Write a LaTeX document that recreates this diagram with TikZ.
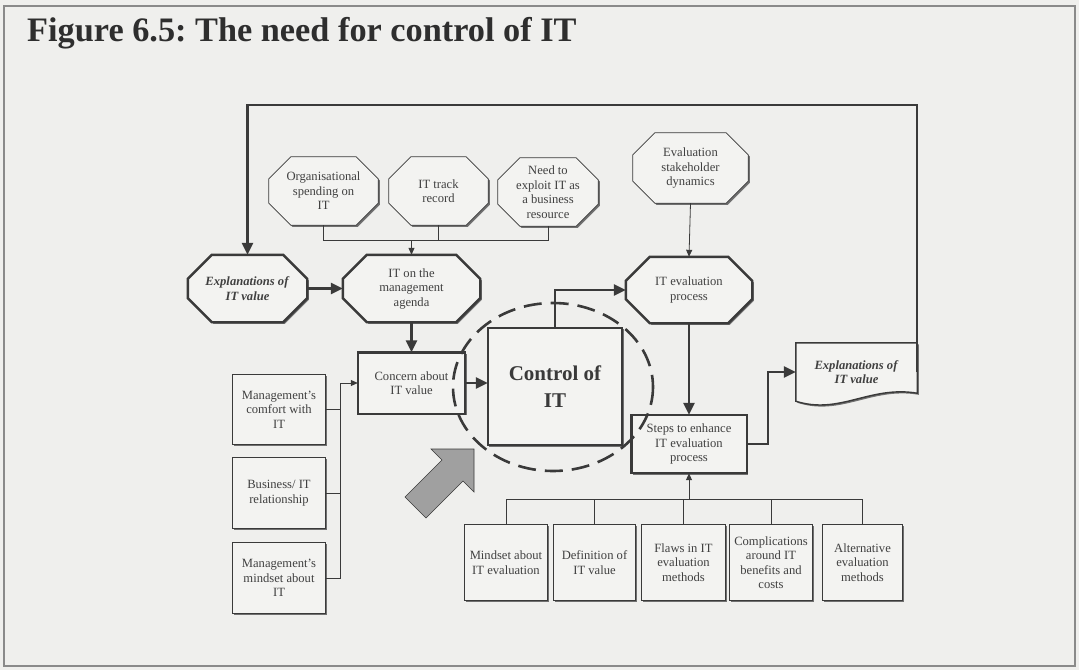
\documentclass[tikz,border=0pt]{standalone}
\usepackage{fontspec}
\setmainfont{Liberation Serif}
\usetikzlibrary{arrows.meta,backgrounds,calc}
\frenchspacing

\definecolor{bgc}{HTML}{EFEFED}
\definecolor{boxc}{HTML}{F3F3F1}
\definecolor{inkc}{HTML}{3A3A3A}
\definecolor{txtc}{HTML}{404040}
\definecolor{titc}{HTML}{2E2E2E}
\definecolor{shdc}{HTML}{707070}
\definecolor{arrc}{HTML}{A0A0A0}
\definecolor{framec}{HTML}{8A8A8A}

% octagon (chamfered rectangle) around a named node: node, chamfer, path options
\newcommand\octshape[3]{%
  \path[#3] ([xshift=#2]#1.north west) -- ([xshift=-#2]#1.north east)
    -- ([yshift=-#2]#1.north east) -- ([yshift=#2]#1.south east)
    -- ([xshift=-#2]#1.south east) -- ([xshift=#2]#1.south west)
    -- ([yshift=#2]#1.south west) -- ([yshift=-#2]#1.north west) -- cycle;}
% octagon with a drop shadow
\newcommand\octbox[3]{%
  \begin{scope}[transform canvas={shift={(1.6pt,-1.6pt)}}]
    \octshape{#1}{#2}{fill=shdc}
  \end{scope}
  \octshape{#1}{#2}{fill=boxc,#3}}
% rectangle with a drop shadow
\newcommand\rectbox[2]{%
  \begin{scope}[transform canvas={shift={(1.6pt,-1.6pt)}}]
    \path[fill=shdc] (#1.north west) rectangle (#1.south east);
  \end{scope}
  \path[fill=boxc,#2] (#1.north west) rectangle (#1.south east);}

\begin{document}
\begin{tikzpicture}[x=1pt,y=-1pt,
  txt/.style={font=\fontsize{12.6}{14.5}\selectfont, text=txtc, align=center, inner sep=0pt},
  thickln/.style={draw=inkc, line width=2.4pt},
  thinln/.style={draw=inkc, line width=0.8pt},
  thickarr/.style={thickln, -{Triangle[length=12pt,width=11pt]}},
  thinarr/.style={thinln, -{Triangle[length=7pt,width=6pt]}}]
\useasboundingbox (0,0) rectangle (1079,670);

% title
\node[anchor=base west, inner sep=0pt, text=titc,
      font=\fontsize{34.3}{40}\selectfont\bfseries] (title) at (27,41)
      {Figure 6.5: The need for control of IT};

% octagons
\node[txt, minimum width=119pt, minimum height=67pt] (explL) at (247.5,288.5)
  {\textbf{\textit{Explanations of}}\\\textbf{\textit{IT value}}};
\node[txt, minimum width=137pt, minimum height=67pt] (agenda) at (411.5,288.5)
  {IT on the\\management\\agenda};
\node[txt, minimum width=126pt, minimum height=66pt] (iteval) at (689,290)
  {IT evaluation\\process};
\node[txt, minimum width=115pt, minimum height=70pt] (stake) at (690.5,168)
  {Evaluation\\stakeholder\\dynamics};
\node[txt, minimum width=109pt, minimum height=68pt] (org) at (323.5,191)
  {Organisational\\spending on\\IT};
\node[txt, minimum width=99pt, minimum height=68pt] (track) at (438.5,191)
  {IT track\\record};
\node[txt, minimum width=100pt, minimum height=68pt] (need) at (548,192)
  {Need to\\exploit IT as\\a business\\resource};

% central boxes
\node[txt, minimum width=107pt, minimum height=61pt] (concern) at (411.5,383)
  {Concern about\\IT value};
\node[inner sep=0pt, minimum width=134pt, minimum height=117pt, align=center,
      text=inkc, font=\fontsize{21}{27}\selectfont\bfseries] (control) at (555,386.5)
  {Control of\\IT};
\node[txt, minimum width=115pt, minimum height=58pt] (steps) at (689,444)
  {Steps to enhance\\IT evaluation\\process};
\node[txt, minimum width=121pt, minimum height=58pt] (docR) at (856.5,372)
  {\textbf{\textit{Explanations of}}\\\textbf{\textit{IT value}}};

% left column
\node[txt, minimum width=92pt, minimum height=69pt] (comfort) at (279,409.5)
  {Management’s\\comfort with\\IT};
\node[txt, minimum width=92pt, minimum height=70pt] (business) at (279,493)
  {Business/ IT\\relationship};
\node[txt, minimum width=92pt, minimum height=70pt] (mindset) at (279,578)
  {Management’s\\mindset about\\IT};

% bottom row
\node[txt, minimum width=82pt, minimum height=75pt] (m1) at (506,562.5)
  {Mindset about\\IT evaluation};
\node[txt, minimum width=81pt, minimum height=75pt] (m2) at (594.5,562.5)
  {Definition of\\IT value};
\node[txt, minimum width=83pt, minimum height=75pt] (m3) at (683.5,562.5)
  {Flaws in IT\\evaluation\\methods};
\node[txt, minimum width=82pt, minimum height=75pt] (m4) at (771,562.5)
  {Complications\\around IT\\benefits and\\costs};
\node[txt, minimum width=79pt, minimum height=75pt] (m5) at (862.5,562.5)
  {Alternative\\evaluation\\methods};

% shapes behind the texts
\begin{pgfonlayer}{background}
  \fill[bgc] (0,0) rectangle (1079,670);
  \octbox{explL}{24pt}{thickln}
  \octbox{agenda}{24pt}{thickln}
  \octbox{iteval}{24pt}{thickln}
  \octbox{stake}{22pt}{thinln}
  \octbox{org}{22pt}{thinln}
  \octbox{track}{22pt}{thinln}
  \octbox{need}{22pt}{thinln}
  \rectbox{concern}{thickln}
  \rectbox{control}{thickln}
  \rectbox{steps}{thickln}
  \begin{scope}[transform canvas={shift={(1.6pt,-1.6pt)}}]
    \path[fill=shdc] (docR.north west) -- (docR.north east) -- ([yshift=8pt]docR.south east)
      .. controls ($(docR.south west)+(74,-16)$) and ($(docR.south west)+(44,14)$) .. (docR.south west) -- cycle;
  \end{scope}
  \path[fill=boxc, draw=inkc, line width=1.4pt] (docR.north west) -- (docR.north east) -- ([yshift=8pt]docR.south east)
    .. controls ($(docR.south west)+(74,-16)$) and ($(docR.south west)+(44,14)$) .. (docR.south west) -- cycle;
  \foreach \b in {comfort,business,mindset,m1,m2,m3,m4,m5} {\rectbox{\b}{thinln}}
\end{pgfonlayer}

% frame
\draw[framec, line width=1.2pt] (4,6) rectangle (1075,666);

% feedback loop
\coordinate (fbtop) at (0,105);
\draw[thickarr] (docR.east) -- (docR.east |- fbtop) -- (explL.north |- fbtop) -- (explL.north);

% top inputs
\coordinate (tb) at (0,240);
\draw[thinln] (org.south) -- (org.south |- tb) -| (need.south);
\draw[thinln] (track.south) -- (track.south |- tb);
\draw[thinarr] (agenda.north |- tb) -- (agenda.north);
\draw[thinarr] (stake.south) -- (iteval.north);

% main chain
\draw[thickarr] (explL.east) -- (agenda.west);
\draw[thickarr] (agenda.south) -- (concern.north);
\draw[thickarr] (concern.east) -- (concern.east -| control.west);
\draw[thickarr] (control.north) |- (iteval.west);
\draw[thickarr] (iteval.south) -- (steps.north);
\coordinate (sj) at (768,0);
\draw[thickarr] (steps.east) -- (steps.east -| sj) |- (docR.west);

% left inputs
\coordinate (lb) at (340,383);
\draw[thinln] (mindset.east) -| (lb);
\draw[thinln] (comfort.east) -- (comfort.east -| lb);
\draw[thinln] (business.east) -- (business.east -| lb);
\draw[thinarr] (lb) -- (concern.west);

% bottom inputs
\coordinate (bb) at (0,499);
\draw[thinln] (m1.north) -- (m1.north |- bb) -| (m5.north);
\foreach \b in {m2,m3,m4} {\draw[thinln] (\b.north) -- (\b.north |- bb);}
\draw[thinarr] (steps.south |- bb) -- (steps.south);

% dashed boundary around the control box
\draw[inkc, line width=2.6pt, dash pattern=on 18pt off 9pt] (553,387) ellipse [x radius=100, y radius=84];

% big block arrow
\path[fill=arrc, draw=inkc, line width=0.6pt]
  (431,449) -- (474,449) -- (474,492) -- (463,481) -- (426,518) -- (405,497) -- (442,460) -- cycle;
\end{tikzpicture}
\end{document}
